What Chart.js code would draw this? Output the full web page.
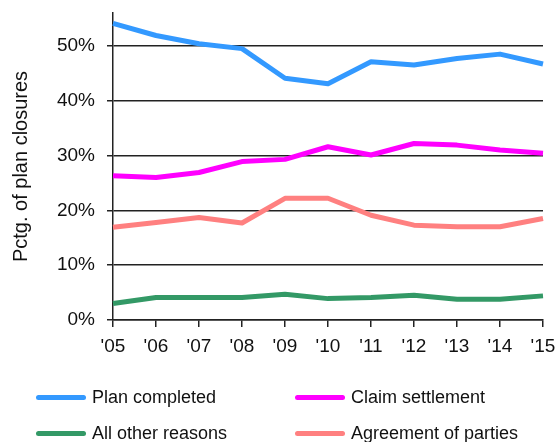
<!DOCTYPE html>
<html>
<head>
<meta charset="utf-8">
<script src="https://cdn.jsdelivr.net/npm/chart.js@4"></script>
<style>
  body { margin: 0; background: #fff; font-family: "Liberation Sans", Arial, sans-serif; }
  #wrap { position: relative; width: 555px; height: 442px; overflow: hidden; }
  #box { position: absolute; left: 0; top: 0; width: 555px; height: 370px; }
  #legend { position: absolute; left: 0; top: 0; width: 555px; height: 442px; pointer-events: none; }
  .item { position: absolute; display: flex; align-items: center; font-size: 18px; color: #111; white-space: nowrap; }
  .swatch { width: 50px; height: 5px; border-radius: 3px; margin-right: 6px; }
</style>
</head>
<body>
<div id="wrap">
  <div id="box"><canvas id="chart"></canvas></div>
  <div id="legend"></div>
</div>
<script>
// 年度ラベル
const years = ["'05", "'06", "'07", "'08", "'09", "'10", "'11", "'12", "'13", "'14", "'15"];
// 各系列の値（%）
const planCompleted = [54.1, 51.9, 50.4, 49.5, 44.1, 43.1, 47.1, 46.5, 47.7, 48.5, 46.7];
const claimSettlement = [26.3, 26.0, 26.9, 28.9, 29.3, 31.6, 30.1, 32.2, 31.9, 31.0, 30.4];
const agreementOfParties = [16.9, 17.8, 18.7, 17.7, 22.2, 22.2, 19.1, 17.3, 17.0, 17.0, 18.5];
const allOtherReasons = [3.0, 4.1, 4.1, 4.1, 4.7, 3.9, 4.1, 4.5, 3.8, 3.8, 4.4];
const yTicks = [0, 10, 20, 30, 40, 50];

const series = [
  { label: 'Plan completed', data: planCompleted, color: '#3399ff' },
  { label: 'Claim settlement', data: claimSettlement, color: '#ff00ff' },
  { label: 'All other reasons', data: allOtherReasons, color: '#339966' },
  { label: 'Agreement of parties', data: agreementOfParties, color: '#ff8080' }
];

const font = "'Liberation Sans', Arial, sans-serif";

const ctx = document.getElementById('chart').getContext('2d');
new Chart(ctx, {
  type: 'line',
  data: {
    labels: years,
    datasets: series.map(s => ({
      label: s.label,
      data: s.data,
      borderColor: s.color,
      backgroundColor: s.color,
      borderWidth: 5,
      pointRadius: 0,
      tension: 0,
      borderCapStyle: 'butt',
      borderJoinStyle: 'round'
    }))
  },
  options: {
    responsive: true,
    maintainAspectRatio: false,
    animation: false,
    layout: { padding: { left: 0, right: 12, top: 13, bottom: 0 } },
    plugins: {
      legend: { display: false },
      tooltip: { enabled: false }
    },
    scales: {
      x: {
        offset: false,
        grid: { drawOnChartArea: false, drawTicks: true, tickLength: 7, color: '#222', lineWidth: 1.5 },
        border: { color: '#222', width: 1.5 },
        ticks: { color: '#111', padding: 8, maxRotation: 0, autoSkip: false, font: { family: font, size: 19 } },
        afterFit: function(scale) {
          scale.height = 50;
          scale.paddingLeft = 0;
          scale.paddingRight = 0;
        }
      },
      y: {
        min: 0,
        max: 56,
        grid: { color: '#222', lineWidth: 1.5, tickLength: 6 },
        border: { color: '#222', width: 1.5 },
        ticks: {
          stepSize: 10,
          padding: 12,
          color: '#111',
          font: { family: font, size: 19 },
          callback: v => v + '%'
        },
        afterBuildTicks: function(scale) {
          scale.ticks = yTicks.map(v => ({ value: v }));
        },
        title: {
          display: true,
          text: 'Pctg. of plan closures',
          color: '#111',
          font: { family: font, size: 20 },
          padding: { top: 9, bottom: 0 }
        },
        afterFit: function(scale) {
          scale.width = 113;
          scale.paddingTop = 0;
          scale.paddingBottom = 0;
        }
      }
    }
  }
});

// 凡例（2列×2行）
const legendPos = [
  { left: 36, top: 387 },
  { left: 295, top: 387 },
  { left: 36, top: 423 },
  { left: 295, top: 423 }
];
const legendEl = document.getElementById('legend');
series.forEach((s, i) => {
  const item = document.createElement('div');
  item.className = 'item';
  item.style.left = legendPos[i].left + 'px';
  item.style.top = legendPos[i].top + 'px';
  const sw = document.createElement('span');
  sw.className = 'swatch';
  sw.style.background = s.color;
  const tx = document.createElement('span');
  tx.textContent = s.label;
  item.appendChild(sw);
  item.appendChild(tx);
  legendEl.appendChild(item);
});
</script>
</body>
</html>
